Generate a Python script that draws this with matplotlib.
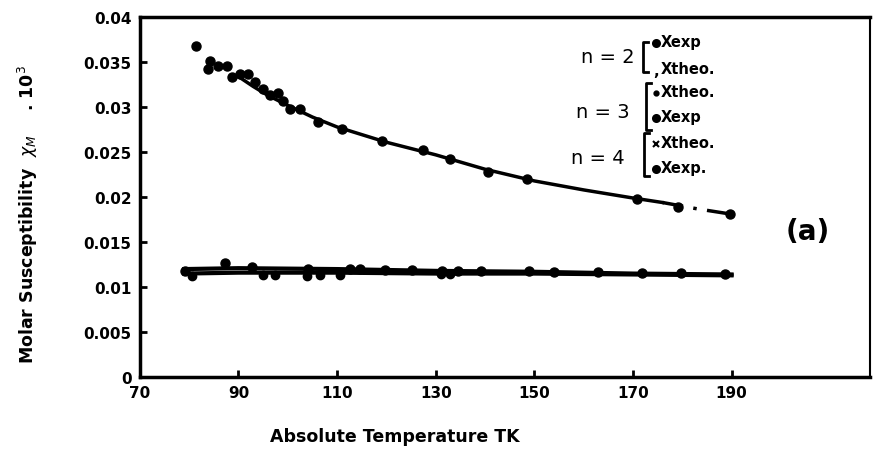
import numpy as np
import matplotlib.pyplot as plt

# n = 2 : experimental points and theoretical curve
n2_exp_T = [81.4, 83.8, 84.2, 85.8, 87.6, 88.7, 90.3, 91.9, 93.3, 94.9, 96.4, 98.0,
            99.0, 100.4, 102.5, 106.1, 111.0, 119.1, 127.4, 132.9, 140.6, 148.5,
            170.8, 179.1, 189.7]
n2_exp_chi = [0.0368, 0.0342, 0.0351, 0.0346, 0.0346, 0.0334, 0.0337, 0.0337, 0.0328,
              0.0320, 0.0313, 0.0316, 0.0307, 0.0298, 0.0298, 0.0284, 0.0276, 0.0262,
              0.0252, 0.0242, 0.0228, 0.0220, 0.0198, 0.0189, 0.0181]
n2_theo_T = [90, 93, 96, 100, 105, 110, 120, 130, 140, 150, 160, 170, 176]
n2_theo_chi = [0.0334, 0.0323, 0.0313, 0.0302, 0.0289, 0.0278, 0.0261, 0.0247, 0.0231,
               0.0218, 0.0208, 0.0199, 0.0194]
n2_dash_T = [176, 183, 190]
n2_dash_chi = [0.0194, 0.0187, 0.0181]

# n = 3 and n = 4 : experimental points and theoretical lines
n3_exp_T = [79.1, 87.2, 92.7, 104.1, 112.6, 114.6, 119.7, 125.2, 131.3, 134.5, 139.2,
            149.0, 154.0, 162.9, 171.8, 179.7, 188.7]
n3_exp_chi = [0.0118, 0.0127, 0.0122, 0.0120, 0.0120, 0.0120, 0.0119, 0.0119, 0.0118,
              0.0118, 0.0118, 0.0118, 0.0117, 0.0117, 0.0116, 0.0116, 0.0115]
n4_exp_T = [80.5, 95.0, 97.5, 104.0, 106.5, 110.5, 131.0, 133.0]
n4_exp_chi = [0.0112, 0.0113, 0.0113, 0.0112, 0.0113, 0.0113, 0.0114, 0.0114]
n3_theo_T = [79, 90, 110, 130, 150, 170, 190]
n3_theo_chi = [0.0120, 0.0121, 0.0120, 0.0118, 0.0117, 0.0115, 0.0114]
n4_theo_T = [79, 90, 110, 130, 150, 170, 190]
n4_theo_chi = [0.0115, 0.0116, 0.0116, 0.0115, 0.0115, 0.0114, 0.0113]

x_ticks = [70, 90, 110, 130, 150, 170, 190]
y_ticks = [0, 0.005, 0.01, 0.015, 0.02, 0.025, 0.03, 0.035, 0.04]
y_labels = ['0', '0.005', '0.01', '0.015', '0.02', '0.025', '0.03', '0.035', '0.04']

fig = plt.figure(figsize=(8.74, 4.52), dpi=100)
ax = fig.add_axes([0.160, 0.1637, 0.835, 0.796])

ax.plot(n2_theo_T, n2_theo_chi, color='black', lw=2.5)
ax.plot(n2_dash_T, n2_dash_chi, color='black', lw=2.5, ls=(0, (6, 3, 1, 3)))
ax.plot(n2_exp_T, n2_exp_chi, 'o', color='black', ms=6.5)

ax.plot(n3_theo_T, n3_theo_chi, color='black', lw=3)
ax.plot(n4_theo_T, n4_theo_chi, color='black', lw=3)
ax.plot(n3_exp_T, n3_exp_chi, 'o', color='black', ms=6.5)
ax.plot(n4_exp_T, n4_exp_chi, 'o', color='black', ms=6)

ax.set_xlim(70, 218)
ax.set_ylim(0, 0.04)
ax.set_xticks(x_ticks)
ax.set_xticklabels([str(t) for t in x_ticks])
ax.set_yticks(y_ticks)
ax.set_yticklabels(y_labels)
ax.tick_params(direction='in', length=5, width=2, labelsize=11, pad=6)
for lab in ax.get_xticklabels() + ax.get_yticklabels():
    lab.set_fontweight('bold')
for side in ['left', 'bottom', 'top']:
    ax.spines[side].set_linewidth(2.5)
ax.spines['right'].set_linewidth(1.5)

# hand-written legend
def axp(px, py):
    return (px - 140) / 730, (378 - py) / 360

tr = ax.transAxes
for txt, (px, py) in [('n = 2', (608, 57)), ('n = 3', (603, 112)), ('n = 4', (598, 158))]:
    ax.text(*axp(px, py), txt, transform=tr, fontsize=14, ha='center', va='center')

for x0, y0, y1 in [(643, 43, 73), (646, 84, 131), (644, 134, 177)]:
    xa, ya0 = axp(x0, y0)
    _, ya1 = axp(x0, y1)
    xh, _ = axp(x0 + 5, y0)
    ax.plot([xh, xa, xa, xh], [ya0, ya0, ya1, ya1], color='black', lw=2,
            transform=tr, clip_on=False)

entries = [('o', 'Xexp', 42), (',', 'Xtheo.', 69), ('.', 'Xtheo.', 92),
           ('o', 'Xexp', 117), ('x', 'Xtheo.', 143), ('o', 'Xexp.', 168)]
for mk, txt, py in entries:
    mx, my = axp(656, py + 2)
    if mk == ',':
        ax.text(mx, my, ',', transform=tr, fontsize=11, fontweight='bold',
                ha='center', va='center')
    else:
        ax.plot([mx], [my], marker=mk, color='black', ms=5 if mk != '.' else 6,
                mew=1.5, transform=tr, clip_on=False)
    ax.text(*axp(661, py), txt, transform=tr, fontsize=10.5, fontweight='bold',
            ha='left', va='center')

ax.text(*axp(808, 232), '(a)', transform=tr, fontsize=20, fontweight='bold',
        ha='center', va='center')

fig.text(395 / 874, 1 - 437 / 452, 'Absolute Temperature TK', fontsize=12.5,
         fontweight='bold', ha='center', va='center')
fig.text(28 / 874, 1 - 215 / 452, r'Molar Susceptibility  $\chi_M$    . 10$^3$',
         fontsize=12.5, fontweight='bold', rotation=90, ha='center', va='center')

fig.savefig('out.png', dpi=100)
